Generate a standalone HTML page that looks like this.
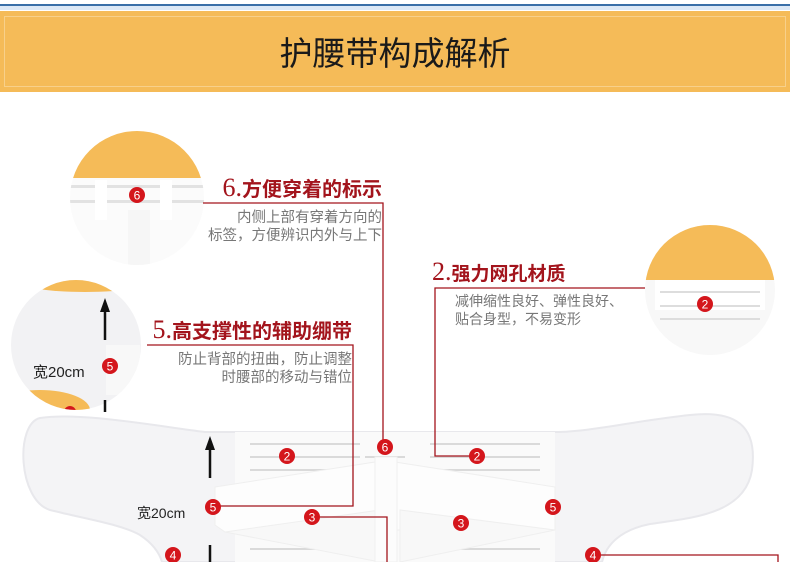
<!DOCTYPE html>
<html><head><meta charset="utf-8"><style>
html,body{margin:0;padding:0;background:#fff;}
svg{display:block;font-family:"Liberation Sans","Noto Sans CJK SC",sans-serif;}
</style></head><body>
<svg width="790" height="562" viewBox="0 0 790 562" xmlns="http://www.w3.org/2000/svg">
<defs>
<clipPath id="c6"><circle cx="137" cy="198" r="67"/></clipPath>
<clipPath id="c5"><circle cx="76" cy="345" r="65"/></clipPath>
<clipPath id="c2"><circle cx="710" cy="290" r="65"/></clipPath>
</defs>
<rect x="0" y="0" width="790" height="5" fill="#fff"/>
<rect x="0" y="4" width="790" height="2" fill="#3a6fa8"/>
<rect x="0" y="6" width="790" height="4" fill="#dce8f6"/>
<rect x="0" y="11" width="790" height="81" fill="#f5bb58"/>
<rect x="4.5" y="16.5" width="781" height="70" fill="none" stroke="#f8d08a" stroke-width="1"/>
<text x="395" y="65" font-size="33" text-anchor="middle" fill="#1a1a1a">护腰带构成解析</text>

<!-- circle 6 -->
<g clip-path="url(#c6)">
<rect x="60" y="120" width="160" height="160" fill="#fbfbfb"/>
<rect x="60" y="120" width="160" height="58" fill="#f5bb58"/>
<rect x="60" y="185" width="160" height="3" fill="#e2e2e2"/>
<rect x="60" y="200" width="160" height="3" fill="#e2e2e2"/>
<rect x="95" y="180" width="12" height="40" fill="#fff"/>
<rect x="160" y="180" width="12" height="40" fill="#fff"/>
<rect x="128" y="210" width="22" height="70" fill="#f6f6f6"/>
<circle cx="137" cy="195" r="8" fill="#d4161c"/><text x="137" y="199.5" font-size="12" fill="#fff" text-anchor="middle">6</text>
</g>
<!-- circle 5 -->
<g clip-path="url(#c5)">
<rect x="0" y="270" width="160" height="150" fill="#f2f2f4"/>
<ellipse cx="85" cy="280" rx="70" ry="12" fill="#f5bb58"/>
<ellipse cx="40" cy="410" rx="50" ry="20" fill="#f5bb58"/>
<ellipse cx="80" cy="432" rx="70" ry="18" fill="#f2f2f4"/>
<rect x="106" y="345" width="34" height="50" fill="#f8f8f8"/>
<circle cx="70" cy="412" r="6" fill="#d4161c"/>
</g>
<line x1="105" y1="312" x2="105" y2="340" stroke="#111" stroke-width="2.5"/>
<polygon points="105,298 100,312 110,312" fill="#111"/>
<line x1="105" y1="400" x2="105" y2="412" stroke="#111" stroke-width="2.5"/>
<text x="33" y="377" font-size="15" fill="#222">宽20cm</text>
<circle cx="110" cy="366" r="8" fill="#d4161c"/><text x="110" y="370.5" font-size="12" fill="#fff" text-anchor="middle">5</text>
<!-- circle 2 -->
<g clip-path="url(#c2)">
<rect x="640" y="220" width="140" height="140" fill="#f8f8f8"/>
<rect x="640" y="220" width="140" height="60" fill="#f5bb58"/>
<rect x="655" y="280" width="110" height="30" fill="#fff"/>
<rect x="660" y="291" width="100" height="2" fill="#ddd"/>
<rect x="660" y="305" width="100" height="2" fill="#ddd"/>
<rect x="660" y="318" width="100" height="2" fill="#ddd"/>
<circle cx="705" cy="304" r="8" fill="#d4161c"/><text x="705" y="308.5" font-size="12" fill="#fff" text-anchor="middle">2</text>
</g>

<!-- belt -->
<path d="M205,432 C150,425 80,412 40,418 C15,424 18,500 50,510 C90,520 120,524 140,535 C155,545 160,555 162,562 L602,562 C606,545 620,530 650,524 C690,518 745,515 752,470 C758,425 735,410 690,415 C640,420 590,432 555,432 Z" fill="#f4f4f6" stroke="#e8e8ec" stroke-width="2"/>
<rect x="235" y="432" width="320" height="130" fill="#fafafa"/>
<g fill="#dadada">
<rect x="250" y="443" width="110" height="2"/><rect x="250" y="456" width="110" height="2"/><rect x="250" y="469" width="110" height="2"/>
<rect x="365" y="456" width="40" height="2"/>
<rect x="430" y="443" width="110" height="2"/><rect x="430" y="456" width="110" height="2"/><rect x="430" y="469" width="110" height="2"/>
<rect x="250" y="548" width="110" height="2"/><rect x="430" y="548" width="110" height="2"/>
</g>
<polygon points="215,487 375,462 375,530 225,532 215,525" fill="#fdfdfd" stroke="#efefef"/>
<polygon points="395,462 555,487 555,530 395,530" fill="#fdfdfd" stroke="#efefef"/>
<polygon points="225,532 380,510 380,562" fill="#f8f8f8" stroke="#efefef"/>
<polygon points="555,530 400,510 400,562" fill="#f8f8f8" stroke="#efefef"/>
<rect x="375" y="457" width="22" height="105" fill="#fcfcfc" stroke="#f0f0f0"/>
<line x1="210" y1="450" x2="210" y2="478" stroke="#111" stroke-width="2.5"/>
<polygon points="210,436 205,450 215,450" fill="#111"/>
<line x1="210" y1="545" x2="210" y2="562" stroke="#111" stroke-width="2.5"/>
<text x="137" y="518" font-size="14" fill="#222">宽20cm</text>

<!-- connectors -->
<g fill="none" stroke="#a3141c" stroke-width="1.3">
<polyline points="203,203 383,203 383,440"/>
<polyline points="147,345 353,345 353,506 213,506"/>
<polyline points="645,288 435,288 435,456 477,456"/>
<polyline points="312,517 387,517 387,562"/>
<polyline points="593,555 778,555 778,562"/>
</g>
<!-- badges -->
<g font-size="12" fill="#fff" text-anchor="middle">
<circle cx="385" cy="447" r="8" fill="#d4161c"/><text x="385" y="451.5">6</text>
<circle cx="287" cy="456" r="8" fill="#d4161c"/><text x="287" y="460.5">2</text>
<circle cx="477" cy="456" r="8" fill="#d4161c"/><text x="477" y="460.5">2</text>
<circle cx="213" cy="507" r="8" fill="#d4161c"/><text x="213" y="511.5">5</text>
<circle cx="553" cy="507" r="8" fill="#d4161c"/><text x="553" y="511.5">5</text>
<circle cx="312" cy="517" r="8" fill="#d4161c"/><text x="312" y="521.5">3</text>
<circle cx="461" cy="523" r="8" fill="#d4161c"/><text x="461" y="527.5">3</text>
<circle cx="173" cy="555" r="8" fill="#d4161c"/><text x="173" y="559.5">4</text>
<circle cx="593" cy="555" r="8" fill="#d4161c"/><text x="593" y="559.5">4</text>
</g>

<!-- labels -->
<text x="382" y="196" text-anchor="end" fill="#a3141c" font-size="20" font-weight="bold"><tspan font-family="Liberation Serif" font-weight="normal" font-size="26">6.</tspan>方便穿着的标示</text>
<text x="382" y="222" text-anchor="end" fill="#777" font-size="14.5">内侧上部有穿着方向的</text>
<text x="382" y="240" text-anchor="end" fill="#777" font-size="14.5">标签，方便辨识内外与上下</text>
<text x="352" y="338" text-anchor="end" fill="#a3141c" font-size="20" font-weight="bold"><tspan font-family="Liberation Serif" font-weight="normal" font-size="26">5.</tspan>高支撑性的辅助绷带</text>
<text x="352" y="364" text-anchor="end" fill="#777" font-size="14.5">防止背部的扭曲，防止调整</text>
<text x="352" y="382" text-anchor="end" fill="#777" font-size="14.5">时腰部的移动与错位</text>
<text x="432" y="280" fill="#a3141c" font-size="19" font-weight="bold"><tspan font-family="Liberation Serif" font-weight="normal" font-size="26">2.</tspan>强力网孔材质</text>
<text x="455" y="306" fill="#777" font-size="14">减伸缩性良好、弹性良好、</text>
<text x="455" y="324" fill="#777" font-size="14">贴合身型，不易变形</text>
</svg>
</body></html>
